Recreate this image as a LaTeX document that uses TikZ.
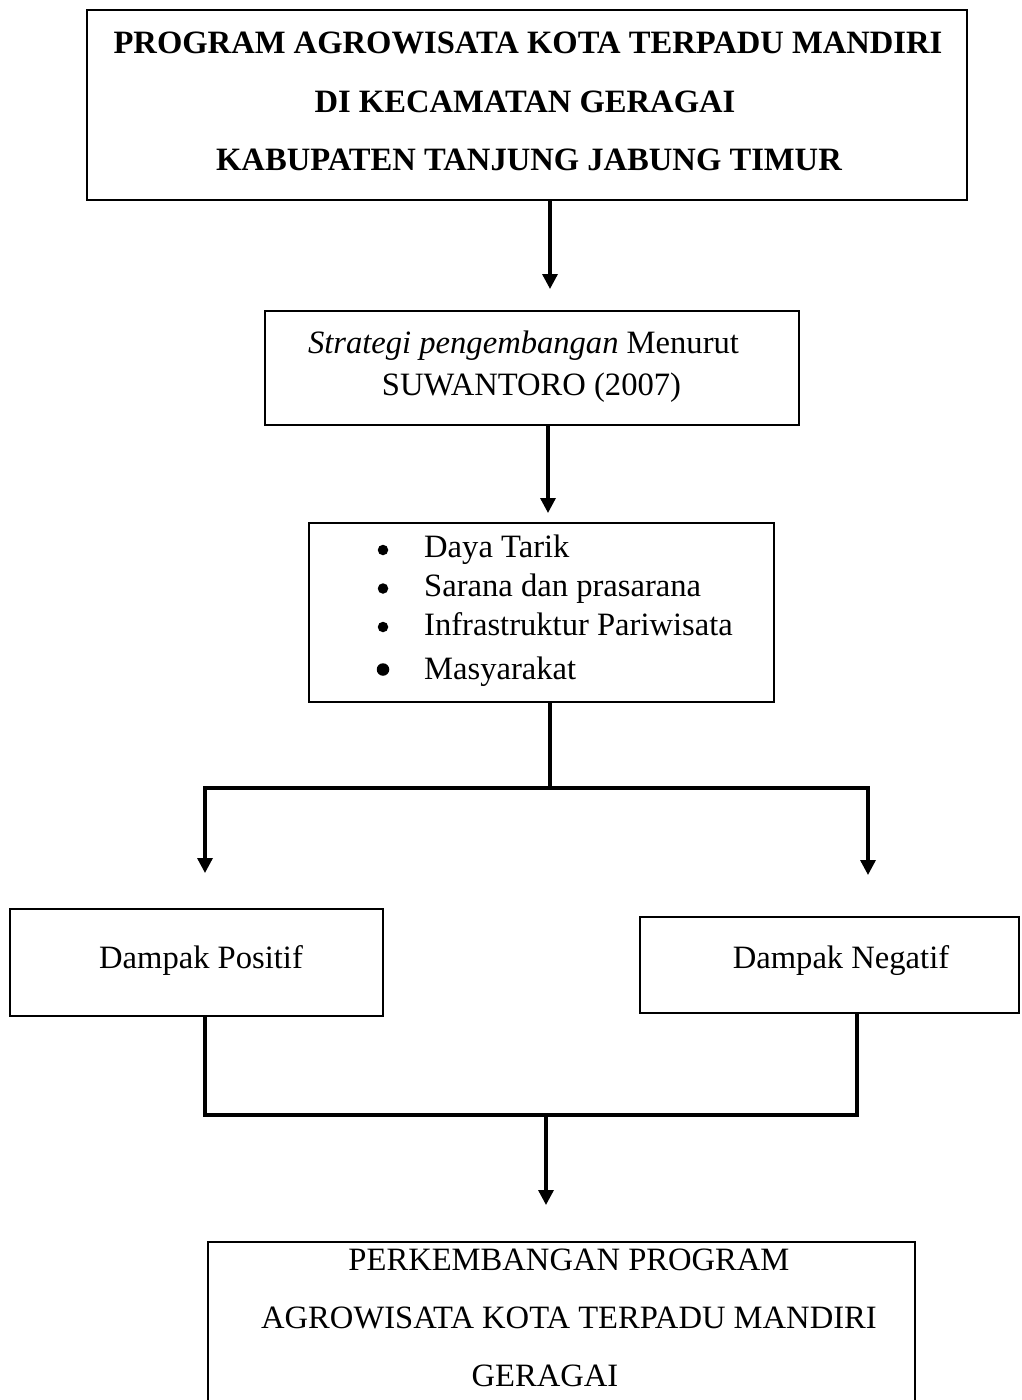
\documentclass[tikz,border=0pt]{standalone}
\usepackage{fontspec}
\setmainfont{Liberation Serif}
\usetikzlibrary{arrows.meta}
\begin{document}
\begin{tikzpicture}[x=1pt,y=-1pt,
  box/.style={draw, line width=2.6pt, rectangle, inner sep=0pt},
  conn/.style={line width=3.3pt, line join=miter},
  arr/.style={conn, -{Triangle[length=15pt,width=15pt]}},
  txt/.style={inner sep=0pt, font=\fontsize{32.6}{38}\selectfont},
  btxt/.style={inner sep=0pt, font=\fontsize{32.6}{38}\selectfont\bfseries},
  dot/.style={circle, fill, inner sep=0pt, minimum size=10.5pt},
]
\useasboundingbox[fill=white] (0,0) rectangle (1022,1400);
\clip (0,0) rectangle (1022,1400);

% boxes
\node[box, minimum width=880pt, minimum height=190pt] (b1) at (527,105) {};
\node[box, minimum width=534pt, minimum height=114pt] (b2) at (532,368) {};
\node[box, minimum width=465pt, minimum height=179pt] (b3) at (541.5,612.5) {};
\node[box, minimum width=373pt, minimum height=107pt] (b4) at (196.5,962.5) {};
\node[box, minimum width=379pt, minimum height=96pt] (b5) at (829.5,965) {};
\node[box, minimum width=707pt, minimum height=178pt] (b6) at (561.5,1331) {};

% texts
\node[btxt, anchor=base] (t1a) at (528,53) {PROGRAM AGROWISATA KOTA TERPADU MANDIRI};
\node[btxt, anchor=base] (t1b) at (525,112) {DI KECAMATAN GERAGAI};
\node[btxt, anchor=base] (t1c) at (529,170) {KABUPATEN TANJUNG JABUNG TIMUR};

\node[txt, anchor=base] (t2a) at (523.5,353) {\textit{Strategi pengembangan} Menurut};
\node[txt, anchor=base] (t2b) at (531.5,395) {SUWANTORO (2007)};

\node[dot] (d3a) at (383,550) {};
\node[dot] (d3b) at (383,588.5) {};
\node[dot] (d3c) at (383,627) {};
\node[dot, minimum size=12.5pt] (d3d) at (383,669.5) {};
\node[txt, anchor=base west] (t3a) at (424,557) {Daya Tarik};
\node[txt, anchor=base west] (t3b) at (424,596) {Sarana dan prasarana};
\node[txt, anchor=base west] (t3c) at (424,635) {Infrastruktur Pariwisata};
\node[txt, anchor=base west] (t3d) at (424,679) {Masyarakat};

\node[txt, anchor=base] (t4) at (201,968) {Dampak Positif};
\node[txt, anchor=base] (t5) at (841,968) {Dampak Negatif};

\node[txt, anchor=base] (t6a) at (569,1270) {PERKEMBANGAN PROGRAM};
\node[txt, anchor=base] (t6b) at (569,1328) {AGROWISATA KOTA TERPADU MANDIRI};
\node[txt, anchor=base] (t6c) at (545,1386) {GERAGAI};

% connectors
\coordinate (a1) at (550,289);
\draw[arr] (b1.south -| a1) -- (a1);
\coordinate (a2) at (548,513);
\draw[arr] (b2.south -| a2) -- (a2);

\coordinate (j1) at (550,788);
\coordinate (jl) at (205,788);
\coordinate (jr) at (868,788);
\coordinate (al) at (205,873);
\coordinate (ar) at (868,875);
\draw[conn] (b3.south -| j1) -- (j1);
\draw[arr] (j1) -- (jl) -- (al);
\draw[arr] (j1) -- (jr) -- (ar);

\coordinate (kl) at (205,1115);
\coordinate (kr) at (857,1115);
\coordinate (km) at (546,1115);
\coordinate (a6) at (546,1205);
\draw[conn] (b4.south -| kl) -- (kl) -- (kr) -- (b5.south -| kr);
\draw[arr] (km) -- (a6);
\end{tikzpicture}
\end{document}
